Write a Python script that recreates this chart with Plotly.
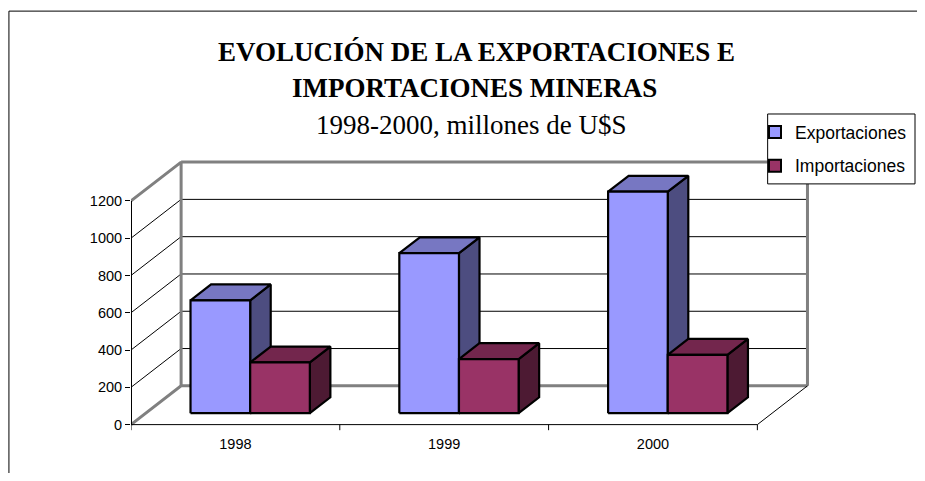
import plotly.graph_objects as go

# ---------------- data ----------------
categories = ["1998", "1999", "2000"]
exportaciones = [605, 858, 1188]
importaciones = [272, 290, 313]
series_names = ["Exportaciones", "Importaciones"]
y_ticks = [0, 200, 400, 600, 800, 1000, 1200]
title_line1 = "EVOLUCIÓN DE LA EXPORTACIONES E"
title_line2 = "IMPORTACIONES MINERAS"
subtitle = "1998-2000, millones de U$S"

# ---------------- style / geometry ----------------
OFF = 8                     # page body margin offset (screen px -> figure px)
W, H = 925 - 2 * OFF, 481 - 2 * OFF
DX, DY = 0.24, 208          # depth offset of the 3D box (x units, value units)
BAR_W = 1 / 3.5             # bar width (gap width 150%)
D0, D1 = 0.295, 0.705       # bar depth span
Y_MAX = 1200
X_RANGE = [-0.5, 2.8]
Y_RANGE = [-45, 1430]
PX_PER_X = 209.0
PX_PER_V = 0.18667
L = 130.7 - OFF
PLOT_W = (X_RANGE[1] - X_RANGE[0]) * PX_PER_X
R = W - L - PLOT_W
Y0_PX = 425.0 - OFF
T = Y0_PX - Y_RANGE[1] * PX_PER_V
B = H - (Y0_PX - Y_RANGE[0] * PX_PER_V)
PLOT_H = H - T - B

FONT_SANS = "Liberation Sans, Arial, sans-serif"
FONT_SERIF = "Liberation Serif, Times New Roman, serif"
WALL = "#808080"

colors = {
    "Exportaciones": {"front": "#9999FF", "top": "#7777C2", "side": "#4D4D80"},
    "Importaciones": {"front": "#993366", "top": "#73264D", "side": "#4D1A33"},
}

def paper_x(screen_px):
    return (screen_px - OFF - L) / PLOT_W

def paper_y(screen_py):
    return (H - B - (screen_py - OFF)) / PLOT_H

fig = go.Figure()

def line(xs, ys, color="black", width=1):
    fig.add_trace(go.Scatter(x=xs, y=ys, mode="lines", line=dict(color=color, width=width),
                             hoverinfo="skip", showlegend=False))

n = len(categories)
xL, xR = -0.5, n - 0.5

# back wall gridlines and side-wall diagonals
for v in y_ticks[1:-1]:
    line([xL + DX, xR + DX], [v + DY, v + DY], "black", 1)
    line([xL, xL + DX], [v, v + DY], "black", 1)

# gray wall outline
line([xL, xL + DX, xR + DX], [0, DY, DY], WALL, 3)
line([xL, xL + DX, xL + DX], [Y_MAX, Y_MAX + DY, DY], WALL, 3)
line([xL + DX, xR + DX, xR + DX], [Y_MAX + DY, Y_MAX + DY, DY], WALL, 3)

# floor front edge, right diagonal, x ticks
line([xL, xR], [0, 0], "black", 1)
line([xR, xR + DX], [0, DY], "black", 1)
for i in range(n + 1):
    b = xL + i
    line([b, b], [0, -30], "black", 1)

# y axis line
line([xL, xL], [0, Y_MAX], "black", 2)

# bars (oblique projection of 3D boxes)
def face(xs, ys, fill):
    fig.add_trace(go.Scatter(x=xs + [xs[0]], y=ys + [ys[0]], mode="lines", fill="toself",
                             fillcolor=fill, line=dict(color="black", width=2.2),
                             hoverinfo="skip", showlegend=False))

series_values = {"Exportaciones": exportaciones, "Importaciones": importaciones}
for i in range(n):
    for s, name in enumerate(series_names):
        v = series_values[name][i]
        c = colors[name]
        x0 = i - BAR_W + s * BAR_W
        x1 = x0 + BAR_W
        fx0, fx1 = x0 + D0 * DX, x1 + D0 * DX
        bx0, bx1 = x0 + D1 * DX, x1 + D1 * DX
        fb, bb = D0 * DY, D1 * DY
        face([fx1, bx1, bx1, fx1], [fb, bb, v + bb, v + fb], c["side"])
        face([fx0, fx1, bx1, bx0], [v + fb, v + fb, v + bb, v + bb], c["top"])
        face([fx0, fx1, fx1, fx0], [fb, fb, v + fb, v + fb], c["front"])

# legend entries
for k, name in enumerate(series_names):
    fig.add_trace(go.Scatter(x=[None], y=[None], mode="markers", name=name,
                             legendgroup=name,
                             marker=dict(symbol="square", size=10, color=colors[name]["front"],
                                         line=dict(color="black", width=2))))

annotations = [
    dict(text="<b>" + title_line1 + "</b>", x=paper_x(477), y=paper_y(52),
         font=dict(family=FONT_SERIF, size=27, color="black")),
    dict(text="<b>" + title_line2 + "</b>", x=paper_x(475), y=paper_y(88),
         font=dict(family=FONT_SERIF, size=27, color="black")),
    dict(text=subtitle, x=paper_x(472), y=paper_y(125),
         font=dict(family=FONT_SERIF, size=27, color="black")),
]
for a in annotations:
    a.update(xref="paper", yref="paper", showarrow=False, xanchor="center", yanchor="middle")

shapes = [
    # chart area frame
    dict(type="rect", xref="paper", yref="paper",
         x0=paper_x(8.5), x1=paper_x(960), y0=paper_y(11), y1=paper_y(520),
         line=dict(color="black", width=1), layer="below"),
    # legend box
    dict(type="rect", xref="paper", yref="paper",
         x0=paper_x(768), x1=paper_x(915.5), y0=paper_y(114), y1=paper_y(184),
         line=dict(color="black", width=1), fillcolor="white", layer="above"),
]

fig.update_layout(
    width=W, height=H,
    margin=dict(l=L, r=R, t=T, b=B, pad=0, autoexpand=False),
    paper_bgcolor="white", plot_bgcolor="rgba(0,0,0,0)",
    annotations=annotations,
    shapes=shapes,
    showlegend=True,
    legend=dict(xref="container", yref="container", x=(755 - OFF) / W, y=1 - (114 - OFF) / H,
                xanchor="left", yanchor="top", bgcolor="rgba(0,0,0,0)",
                borderwidth=0,
                font=dict(family=FONT_SANS, size=17.5, color="black"),
                tracegroupgap=8, itemsizing="constant", itemwidth=30),
    xaxis=dict(range=X_RANGE, tickvals=list(range(n)), ticktext=categories,
               showgrid=False, zeroline=False, showline=False, ticks="",
               tickfont=dict(family=FONT_SANS, size=14.5, color="black"), fixedrange=True),
    yaxis=dict(range=Y_RANGE, tickvals=y_ticks, ticktext=[str(t) for t in y_ticks],
               showgrid=False, zeroline=False, showline=False, ticks="outside",
               ticklen=5, tickcolor="black", tickwidth=1,
               tickfont=dict(family=FONT_SANS, size=14.5, color="black"), fixedrange=True),
)

fig.write_html("out.html")
